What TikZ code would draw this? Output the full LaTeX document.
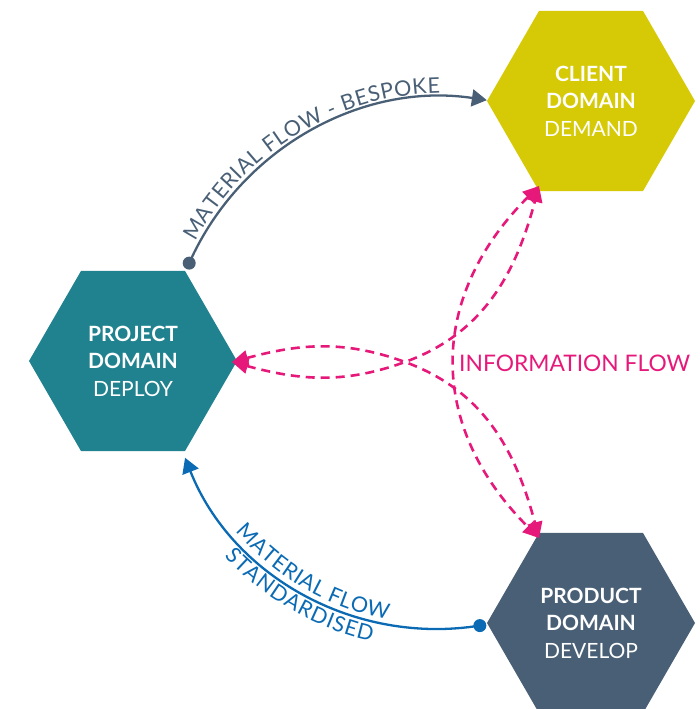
\documentclass[tikz,border=0pt]{standalone}
\usepackage{fontspec}
\setmainfont{Lato}
\usetikzlibrary{shapes.geometric,arrows.meta,decorations.text}
\definecolor{clientcol}{RGB}{213,202,5}
\definecolor{projectcol}{RGB}{33,130,143}
\definecolor{productcol}{RGB}{73,95,118}
\definecolor{bluecol}{RGB}{10,106,180}
\definecolor{pinkcol}{RGB}{230,25,122}
\newcommand{\arcfont}{\fontsize{21.5}{21.5}\selectfont}
\begin{document}
\begin{tikzpicture}[x=1pt,y=1pt,
  hexa/.style={regular polygon, regular polygon sides=6, minimum size=208pt,
    inner sep=0pt, fill=#1, draw=none, text=white, align=center,
    font=\fontsize{21}{27.5}\selectfont},
  infoflow/.style={draw=pinkcol, line width=2.6pt, dash pattern=on 9pt off 6pt,
    {Triangle[length=16pt,width=15pt]}-{Triangle[length=16pt,width=15pt]}},
  bespokeline/.style={draw=productcol, line width=2.3pt,
    -{Triangle[length=15pt,width=17pt]}},
  stdline/.style={draw=bluecol, line width=2.3pt,
    -{Triangle[length=15pt,width=17pt]}},
  enddot/.style={fill=#1}
]
\clip (0,0) rectangle (700,-709);

% hexagons
\node[hexa=clientcol] (client) at (591,-101) {\textbf{CLIENT}\\\textbf{DOMAIN}\\DEMAND};
\node[hexa=projectcol] (project) at (133,-361) {\textbf{PROJECT}\\\textbf{DOMAIN}\\DEPLOY};
\node[hexa=productcol] (product) at (591,-623) {\textbf{PRODUCT}\\\textbf{DOMAIN}\\DEVELOP};

% material flow - bespoke
\coordinate (topC) at (445,-377);
\coordinate (bespokeStart) at ([shift={(156:280pt)}]topC);
\draw[bespokeline] (bespokeStart) arc[start angle=156, end angle=81.4, radius=280pt];
\fill[enddot=productcol] (bespokeStart) circle[radius=6.5pt];
\path[decorate, decoration={text along path,
    text={|\arcfont|MATERIAL FLOW - BESPOKE}, text align=fit to path,
    text color=productcol}]
  ([shift={(151.6:284pt)}]topC) arc[start angle=151.6, end angle=91, radius=284pt];

% material flow - standardised
\coordinate (botC) at (437,-358);
\coordinate (stdStart) at ([shift={(279.1:271pt)}]botC);
\draw[stdline] (stdStart) arc[start angle=279.1, end angle=201.6, radius=271pt];
\fill[enddot=bluecol] (stdStart) circle[radius=6.5pt];
\path[decorate, decoration={text along path,
    text={|\arcfont|MATERIAL FLOW}, text align=fit to path,
    text color=bluecol}]
  ([shift={(220.7:266pt)}]botC) arc[start angle=220.7, end angle=259.3, radius=266pt];
\path[decorate, decoration={text along path,
    text={|\arcfont|STANDARDISED}, text align=fit to path,
    text color=bluecol}]
  ([shift={(223:291pt)}]botC) arc[start angle=223, end angle=257, radius=291pt];

% information flow
\coordinate (pTip) at (232,-362);
\coordinate (cTip) at (539,-186);
\coordinate (dTip) at (539,-538);
\coordinate (cross) at (405,-362);
\draw[infoflow] (pTip) to[out=-15,in=200] (cross) to[out=20,in=255] (cTip);
\draw[infoflow] (pTip) to[out=15,in=160] (cross) to[out=-20,in=105] (dTip);
\draw[infoflow] (cTip) to[out=225,in=135,looseness=1.15] (dTip);
\node[anchor=west, text=pinkcol, inner sep=0pt, font=\fontsize{22.8}{22.8}\selectfont]
  (infolabel) at (459,-363) {INFORMATION FLOW};
\end{tikzpicture}
\end{document}
